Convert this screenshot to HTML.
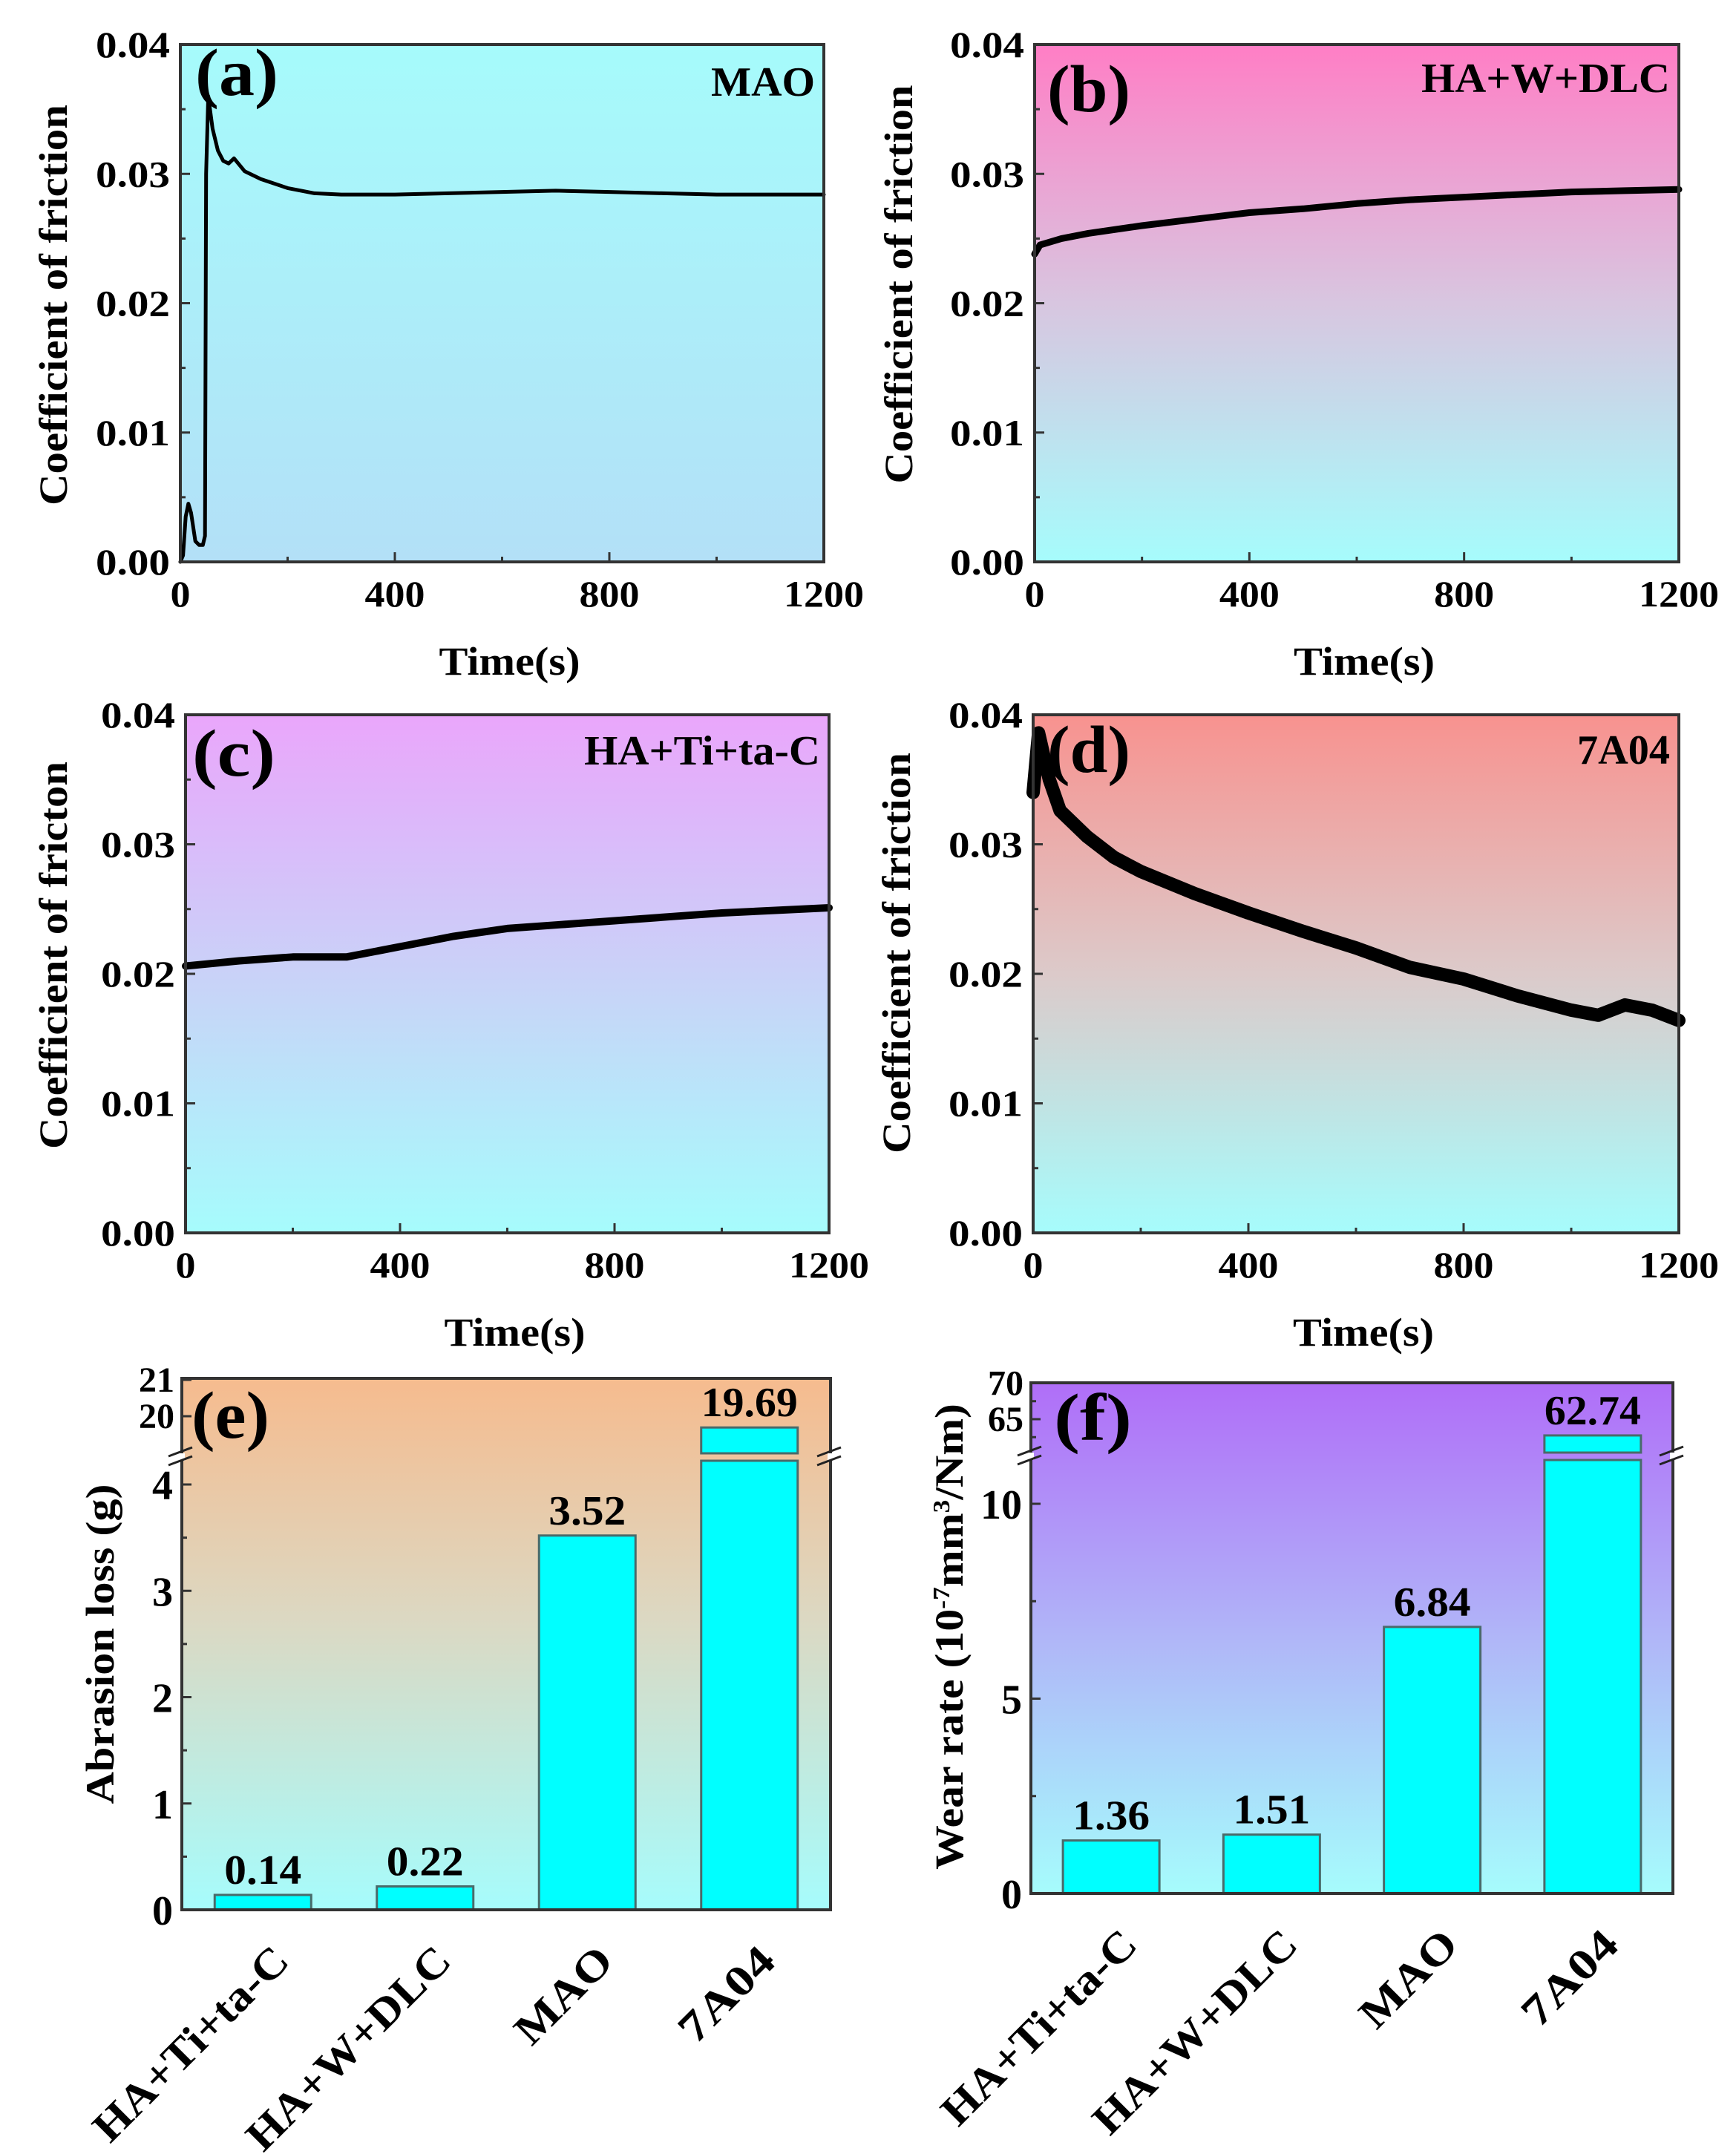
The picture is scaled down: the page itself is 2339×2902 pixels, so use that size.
<!DOCTYPE html>
<html><head><meta charset="utf-8"><style>
html,body{margin:0;padding:0;background:#fff}
svg{display:block;font-family:"Liberation Serif","Times New Roman",serif;font-weight:bold}
svg text{font-family:"Liberation Serif","Times New Roman",serif}
</style></head><body>
<svg id="fig" width="2339" height="2902" viewBox="0 0 2339 2902" xmlns="http://www.w3.org/2000/svg" font-family="Liberation Serif, Times New Roman, serif" font-weight="bold">
<defs>
<linearGradient id="gA" x1="0" y1="0" x2="0" y2="1"><stop offset="0" stop-color="#a6fbfb"/><stop offset="1" stop-color="#b3e0f7"/></linearGradient>
<linearGradient id="gB" x1="0" y1="0" x2="0" y2="1"><stop offset="0" stop-color="#ff7ec5"/><stop offset="0.5" stop-color="#d8c6e0"/><stop offset="1" stop-color="#a6fcfc"/></linearGradient>
<linearGradient id="gC" x1="0" y1="0" x2="0" y2="1"><stop offset="0" stop-color="#eaa6fb"/><stop offset="0.55" stop-color="#c6d6f8"/><stop offset="1" stop-color="#a6fcfc"/></linearGradient>
<linearGradient id="gD" x1="0" y1="0" x2="0" y2="1"><stop offset="0" stop-color="#f8928f"/><stop offset="0.5" stop-color="#dccaca"/><stop offset="1" stop-color="#a6fcfc"/></linearGradient>
<linearGradient id="gE" x1="0" y1="0" x2="0" y2="1"><stop offset="0" stop-color="#f6bb8e"/><stop offset="0.45" stop-color="#dcd8c2"/><stop offset="1" stop-color="#a6fcfc"/></linearGradient>
<linearGradient id="gF" x1="0" y1="0" x2="0" y2="1"><stop offset="0" stop-color="#b06ef8"/><stop offset="0.5" stop-color="#b0b6f8"/><stop offset="1" stop-color="#a6fcfc"/></linearGradient>
</defs>
</svg>
<script>
// ---- data ----
const timeTicks = [0, 400, 800, 1200];
const cofTicks = [0.00, 0.01, 0.02, 0.03, 0.04];
const cofTickLabels = ["0.00", "0.01", "0.02", "0.03", "0.04"];
const maoT = [0, 5, 10, 15, 20, 28, 35, 42, 46, 48, 52, 60, 70, 80, 90, 100, 120, 150, 200, 250, 300, 400, 500, 600, 700, 800, 900, 1000, 1100, 1200];
const maoCof = [0.0, 0.0005, 0.0035, 0.0045, 0.0038, 0.0016, 0.0013, 0.0013, 0.002, 0.030, 0.036, 0.0335, 0.0318, 0.031, 0.0308, 0.0312, 0.0302, 0.0296, 0.0289, 0.0285, 0.0284, 0.0284, 0.0285, 0.0286, 0.0287, 0.0286, 0.0285, 0.0284, 0.0284, 0.0284];
const dlcT = [0, 10, 50, 100, 200, 300, 400, 500, 600, 700, 800, 900, 1000, 1100, 1200];
const dlcCof = [0.0238, 0.0245, 0.0250, 0.0254, 0.0260, 0.0265, 0.0270, 0.0273, 0.0277, 0.0280, 0.0282, 0.0284, 0.0286, 0.0287, 0.0288];
const tacT = [0, 100, 200, 300, 400, 500, 600, 700, 800, 900, 1000, 1100, 1200];
const tacCof = [0.0206, 0.0210, 0.0213, 0.0213, 0.0221, 0.0229, 0.0235, 0.0238, 0.0241, 0.0244, 0.0247, 0.0249, 0.0251];
const a7T = [0, 10, 30, 50, 100, 150, 200, 300, 400, 500, 600, 700, 800, 900, 1000, 1050, 1100, 1150, 1200];
const a7Cof = [0.034, 0.0386, 0.035, 0.0326, 0.0306, 0.0290, 0.0279, 0.0262, 0.0247, 0.0233, 0.0220, 0.0205, 0.0196, 0.0183, 0.0172, 0.0168, 0.0176, 0.0172, 0.0164];
const categories = ["HA+Ti+ta-C", "HA+W+DLC", "MAO", "7A04"];
const abrasionVals = [0.14, 0.22, 3.52, 19.69];
const abrasionLabels = ["0.14", "0.22", "3.52", "19.69"];
const abrasionTicksLow = [0, 1, 2, 3, 4];
const abrasionTicksHigh = [20, 21];
const wearVals = [1.36, 1.51, 6.84, 62.74];
const wearLabels = ["1.36", "1.51", "6.84", "62.74"];
const wearTicksLow = [0, 5, 10];
const wearTicksHigh = [65, 70];

const NS = "http://www.w3.org/2000/svg";
const svg = document.getElementById('fig');
function mk(tag, attrs, parent, txt) {
  const e = document.createElementNS(NS, tag);
  for (const k in attrs) e.setAttribute(k, attrs[k]);
  if (tag === 'text') e.setAttribute('font-family', 'Liberation Serif, Times New Roman, serif');
  if (txt !== undefined) e.textContent = txt;
  (parent || svg).appendChild(e);
  return e;
}

function linePanel(o) {
  const g = mk('g', {});
  
  
  const X = t => o.L + (t / 1200) * (o.R - o.L);
  const Y = v => o.B - (v / 0.04) * (o.B - o.T);
  const bg = mk('rect', {x: o.L, y: o.T, width: o.R - o.L, height: o.B - o.T, fill: o.fill}, g);
  
  
  for (let v = 0; v <= 0.04001; v += 0.005) {
    const major = Math.abs(v * 100 - Math.round(v * 100)) < 1e-6;
    mk('line', {x1: o.L, x2: o.L + (major ? 13 : 7), y1: Y(v), y2: Y(v), stroke: '#333', 'stroke-width': 3}, g);
  }
  for (let t = 0; t <= 1200; t += 200) {
    const major = t % 400 === 0;
    mk('line', {x1: X(t), x2: X(t), y1: o.B, y2: o.B - (major ? 13 : 7), stroke: '#333', 'stroke-width': 3}, g);
  }
  let d = '';
  o.t.forEach((t, i) => { d += (i ? 'L' : 'M') + X(t).toFixed(1) + ',' + Y(o.v[i]).toFixed(1); });
  const p = mk('path', {d: d, fill: 'none', stroke: '#000', 'stroke-width': o.sw, 'stroke-linejoin': 'round', 'stroke-linecap': 'round'}, g);
  
  
  mk('rect', {x: o.L, y: o.T, width: o.R - o.L, height: o.B - o.T, fill: 'none', stroke: '#333', 'stroke-width': 4}, g);
  cofTicks.forEach((v, i) => {
    const tl = mk('text', {x: o.L - 14, y: Y(v) + 17, 'text-anchor': 'end', 'font-size': 50, textLength: 100, lengthAdjust: 'spacingAndGlyphs'}, g, cofTickLabels[i]);
    
    
  });
  timeTicks.forEach(t => {
    const s = String(t);
    const tl = mk('text', {x: X(t), y: o.B + 60, 'text-anchor': 'middle', 'font-size': 50, textLength: s.length * 27, lengthAdjust: 'spacingAndGlyphs'}, g, s);
    
    
  });
  const xt = mk('text', {x: (o.L + o.R) / 2 + 10, y: o.B + 152, 'text-anchor': 'middle', 'font-size': 54, textLength: 190, lengthAdjust: 'spacingAndGlyphs'}, g, 'Time(s)');
  
  
  const yt = mk('text', {x: 0, y: 0, 'text-anchor': 'middle', 'font-size': 54, textLength: o.ylen, lengthAdjust: 'spacingAndGlyphs', transform: `translate(${o.yx},${o.yc}) rotate(-90)`}, g, o.ytitle);
  
  
  const pl = mk('text', {x: o.lx, y: o.ly, 'font-size': 90, textLength: 112, lengthAdjust: 'spacingAndGlyphs'}, g, o.label);
  
  
  const sl = mk('text', {x: o.R - 12, y: o.sy, 'text-anchor': 'end', 'font-size': 56, textLength: o.slen, lengthAdjust: 'spacingAndGlyphs'}, g, o.sample);
  
  
}

linePanel({name: 'panel-a-mao', L: 243, R: 1110, T: 60, B: 757, fill: 'url(#gA)', t: maoT, v: maoCof, sw: 5, ytitle: 'Coefficient of friction', yx: 90, yc: 411, ylen: 540, label: '(a)', lx: 263, ly: 128, sample: 'MAO', sy: 129, slen: 140});
linePanel({name: 'panel-b-dlc', L: 1394, R: 2262, T: 60, B: 757, fill: 'url(#gB)', t: dlcT, v: dlcCof, sw: 9, ytitle: 'Coefficient of friction', yx: 1229, yc: 383, ylen: 537, label: '(b)', lx: 1411, ly: 150, sample: 'HA+W+DLC', sy: 124, slen: 335});
linePanel({name: 'panel-c-tac', L: 250, R: 1117, T: 963, B: 1661, fill: 'url(#gC)', t: tacT, v: tacCof, sw: 10, ytitle: 'Coefficient of fricton', yx: 90, yc: 1287, ylen: 522, label: '(c)', lx: 259, ly: 1045, sample: 'HA+Ti+ta-C', sy: 1030, slen: 318});
linePanel({name: 'panel-d-7a04', L: 1392, R: 2262, T: 963, B: 1661, fill: 'url(#gD)', t: a7T, v: a7Cof, sw: 18, ytitle: 'Coefficient of friction', yx: 1226, yc: 1284, ylen: 540, label: '(d)', lx: 1411, ly: 1040, sample: '7A04', sy: 1029, slen: 125});

function barPanel(o) {
  const g = mk('g', {});
  
  
  const slot = (o.R - o.L) / o.vals.length;
  const Ylow = v => o.B - v * o.lowUnit;
  const Yhigh = v => o.hiRefY - (v - o.hiRef) * o.hiUnit;
  const Y = v => v <= o.lowMax ? Ylow(v) : Yhigh(v);
  const bg = mk('rect', {x: o.L, y: o.T, width: o.R - o.L, height: o.B - o.T, fill: o.fill}, g);
  
  
  o.ticksLow.forEach((v, i) => {
    mk('line', {x1: o.L, x2: o.L + 13, y1: Ylow(v), y2: Ylow(v), stroke: '#333', 'stroke-width': 3}, g);
    if (i < o.ticksLow.length - 1 || Ylow(v + o.minorStep) > o.breakY + 10)
      mk('line', {x1: o.L, x2: o.L + 7, y1: Ylow(v + o.minorStep), y2: Ylow(v + o.minorStep), stroke: '#333', 'stroke-width': 3}, g);
  });
  o.ticksHigh.forEach(v => {
    mk('line', {x1: o.L, x2: o.L + 13, y1: Yhigh(v), y2: Yhigh(v), stroke: '#333', 'stroke-width': 3}, g);
  });
  if (o.hiMinor) o.hiMinor.forEach(v => mk('line', {x1: o.L, x2: o.L + 7, y1: Yhigh(v), y2: Yhigh(v), stroke: '#333', 'stroke-width': 3}, g));
  o.vals.forEach((v, i) => {
    const cx = o.L + slot * (i + 0.5);
    const w = 130;
    if (v <= o.lowMax) {
      const r = mk('rect', {x: cx - w / 2, y: Y(v), width: w, height: o.B - Y(v), fill: '#00ffff', stroke: '#4a6a6a', 'stroke-width': 3}, g);
      
      
    } else {
      const r1 = mk('rect', {x: cx - w / 2, y: o.breakY + 5, width: w, height: o.B - o.breakY - 5, fill: '#00ffff', stroke: '#4a6a6a', 'stroke-width': 3}, g);
      
      
      const r2 = mk('rect', {x: cx - w / 2, y: Y(v), width: w, height: o.breakY - 5 - Y(v), fill: '#00ffff', stroke: '#4a6a6a', 'stroke-width': 3}, g);
      
      
    }
    const lbl = o.labels[i];
    const vt = mk('text', {x: cx, y: Y(v) - 15, 'text-anchor': 'middle', 'font-size': 56, textLength: lbl.length * 26, lengthAdjust: 'spacingAndGlyphs'}, g, lbl);
    
    
    const cl = mk('text', {x: 0, y: 0, 'text-anchor': 'end', 'font-size': 58, textLength: o.catLen[i], lengthAdjust: 'spacingAndGlyphs', transform: `translate(${cx + 38},${o.B + 72}) rotate(-45)`}, g, o.cats[i]);
    
    
  });
  mk('rect', {x: o.L, y: o.T, width: o.R - o.L, height: o.B - o.T, fill: 'none', stroke: '#333', 'stroke-width': 4}, g);
  [o.L, o.R].forEach(x => {
    mk('rect', {x: x - 4, y: o.breakY - 5, width: 8, height: 10, fill: '#fff'}, g);
    mk('line', {x1: x - 18, y1: o.breakY - 1, x2: x + 14, y2: o.breakY - 13, stroke: '#222', 'stroke-width': 3}, g);
    mk('line', {x1: x - 18, y1: o.breakY + 11, x2: x + 14, y2: o.breakY - 1, stroke: '#222', 'stroke-width': 3}, g);
  });
  o.ticksLow.forEach(v => {
    const t = mk('text', {x: o.L - 12, y: Ylow(v) + 20, 'text-anchor': 'end', 'font-size': 56}, g, String(v));
    
    
  });
  o.ticksHigh.forEach(v => {
    const t = mk('text', {x: o.L - 10, y: Yhigh(v) + 16, 'text-anchor': 'end', 'font-size': 48}, g, String(v));
    
    
  });
  const yt = mk('text', {x: 0, y: 0, 'text-anchor': 'middle', 'font-size': 54, textLength: o.ylen, lengthAdjust: 'spacingAndGlyphs', transform: `translate(${o.yx},${o.yc}) rotate(-90)`}, g);
  
  
  o.ytitle.forEach(part => {
    mk('tspan', part.sup ? {'baseline-shift': 'super', 'font-size': 32} : {}, yt, part.t);
  });
  const pl = mk('text', {x: o.lx, y: o.ly, 'font-size': 90, textLength: 105, lengthAdjust: 'spacingAndGlyphs'}, g, o.label);
  
  
}

barPanel({name: 'panel-e-abrasion', L: 245, R: 1119, T: 1857, B: 2573, fill: 'url(#gE)', vals: abrasionVals, labels: abrasionLabels, cats: categories,
  catLen: [345, 362, 160, 157], lowUnit: 143.25, lowMax: 4.27, hiRef: 20, hiRefY: 1908, hiUnit: 49, breakY: 1963,
  ticksLow: abrasionTicksLow, ticksHigh: abrasionTicksHigh, minorStep: 0.5, hiMinor: [],
  ytitle: [{t: 'Abrasion loss (g)'}], yx: 153, yc: 2215, ylen: 431, label: '(e)', lx: 258, ly: 1937});
barPanel({name: 'panel-f-wear-rate', L: 1389, R: 2254, T: 1863, B: 2551, fill: 'url(#gF)', vals: wearVals, labels: wearLabels, cats: categories,
  catLen: [345, 362, 160, 157], lowUnit: 52.5, lowMax: 11.2, hiRef: 65, hiRefY: 1912, hiUnit: 9.7, breakY: 1962,
  ticksLow: wearTicksLow, ticksHigh: wearTicksHigh, minorStep: 2.5, hiMinor: [62.5, 67.5],
  ytitle: [{t: 'Wear rate (10'}, {t: '-7', sup: true}, {t: 'mm'}, {t: '3', sup: true}, {t: '/Nm)'}], yx: 1297, yc: 2205, ylen: 628, label: '(f)', lx: 1420, ly: 1940});
</script>
</body></html>
